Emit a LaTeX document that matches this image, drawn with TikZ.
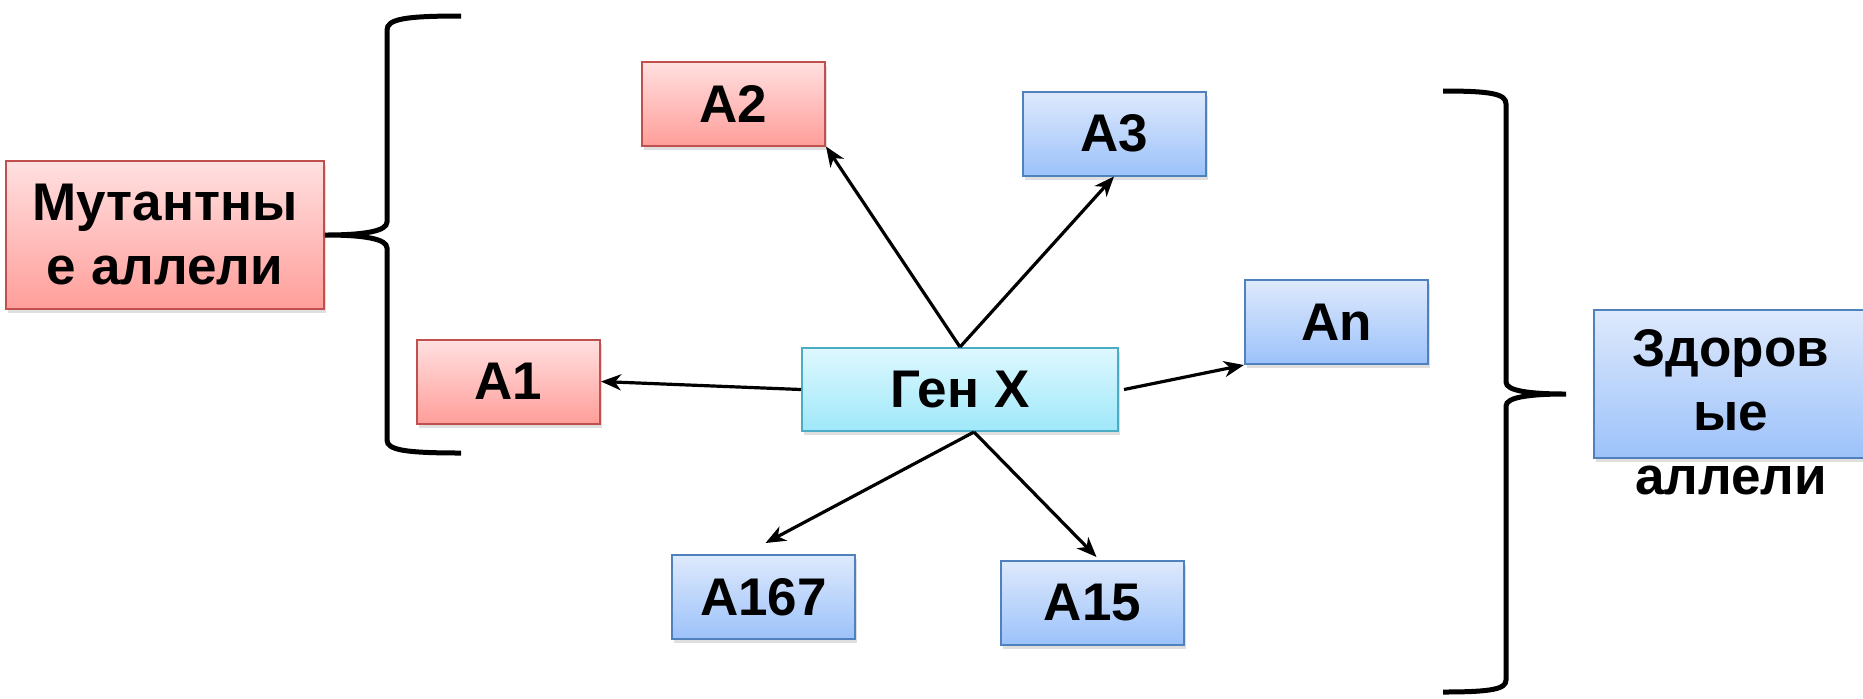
\documentclass[tikz,border=0pt]{standalone}
\usepackage{fontspec}
\setmainfont{Liberation Sans}
\usetikzlibrary{arrows.meta,shadows}
\definecolor{redtop}{HTML}{FFE0E0}
\definecolor{redbot}{HTML}{FF9E9A}
\definecolor{redline}{HTML}{C0504D}
\definecolor{bluetop}{HTML}{DEE9FC}
\definecolor{bluebot}{HTML}{9CC2FA}
\definecolor{blueline}{HTML}{4F81BD}
\definecolor{cyantop}{HTML}{DEF8FE}
\definecolor{cyanbot}{HTML}{9FE8FA}
\definecolor{cyanline}{HTML}{4BACC6}
\begin{document}
\begin{tikzpicture}[x=0.5pt,y=-0.5pt,
  txt/.style={font=\bfseries\fontsize{26.5}{32}\selectfont},
  box/.style={txt, draw, line width=1pt, inner sep=0pt, align=center,
    drop shadow={shadow xshift=1pt,shadow yshift=-2pt,opacity=0.25}},
  redbox/.style={box, draw=redline, top color=redtop, bottom color=redbot},
  bluebox/.style={box, draw=blueline, top color=bluetop, bottom color=bluebot},
  cyanbox/.style={box, draw=cyanline, top color=cyantop, bottom color=cyanbot},
  small/.style={minimum width=91.5pt, minimum height=42pt},
  arr/.style={-{Stealth[length=10pt,width=8pt,inset=3pt]}, line width=1.6pt},
  brace/.style={line width=2.5pt}
]
\useasboundingbox (0,0) rectangle (1863,698);

% boxes
\node[redbox, minimum width=159pt, minimum height=74pt] (mut) at (165,235) {Мутантны\\е аллели};
\node[redbox, small] (a2) at (733.5,103.5) {A2};
\node[redbox, small] (a1) at (508.5,381.5) {A1};
\node[bluebox, small] (a3) at (1114,133.5) {A3};
\node[bluebox, small] (an) at (1336.5,322) {An};
\node[bluebox, small] (a167) at (763.5,597) {A167};
\node[bluebox, small] (a15) at (1092.5,603) {A15};
\node[cyanbox, minimum width=158pt, minimum height=41.5pt] (gen) at (960,389.5) {Ген X};
\node[bluebox, minimum width=145pt, minimum height=74pt] (zdbox) at (1739,384) {};
\node[txt, anchor=north, inner sep=0pt, align=center] (zdtext) at (1731,329) {Здоров\\ые\\аллели};

% arrows
\draw[arr] (gen.west) -- (a1.east);
\draw[arr] (gen.north) -- (a2.south east);
\draw[arr] (gen.north) -- (a3.south);
\draw[arr] ([xshift=2.5pt]gen.east) -- (an.south west);
\draw[arr] ([xshift=7pt]gen.south) -- ([xshift=1pt,yshift=5.5pt]a167.north);
\draw[arr] ([xshift=7pt]gen.south) -- ([xshift=2pt,yshift=1.5pt]a15.north);

% left brace
\coordinate (lb) at (325,235);
\draw[brace] (461,16) .. controls (405,16) and (387,19) .. (387,30) -- (387,222)
  .. controls (387,231) and (365,235) .. (lb)
  .. controls (365,235) and (387,239) .. (387,248) -- (387,440)
  .. controls (387,450) and (405,453) .. (461,453);

% right brace
\coordinate (rb) at (1566,394);
\draw[brace] (1443,91) .. controls (1492,91) and (1506,94) .. (1506,104) -- (1506,382)
  .. controls (1506,391) and (1530,394) .. (rb)
  .. controls (1530,394) and (1506,397) .. (1506,406) -- (1506,680)
  .. controls (1506,689) and (1492,692) .. (1443,692);
\end{tikzpicture}
\end{document}
